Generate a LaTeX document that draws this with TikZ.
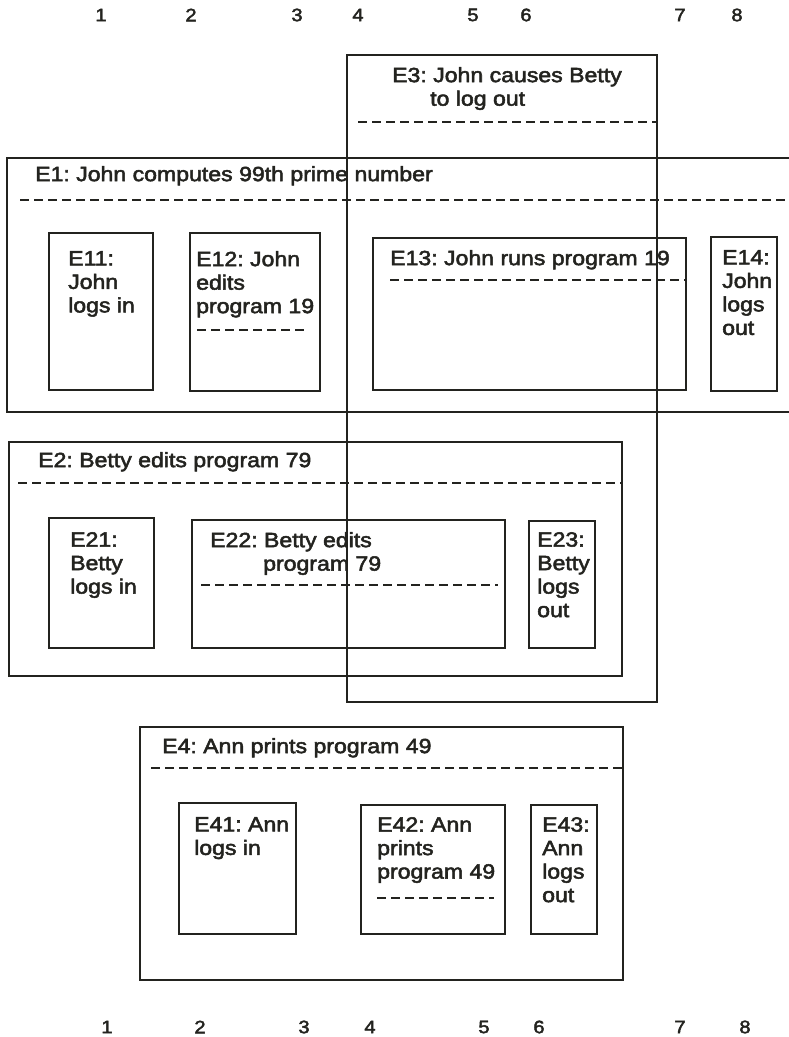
\documentclass[tikz,border=0pt]{standalone}
\usepackage{fontspec}
\setmainfont{Liberation Sans}[FakeStretch=1.12,FakeBold=2.5]
\usetikzlibrary{fit}
\definecolor{ink}{HTML}{23231F}
\tikzset{
  evbox/.style={draw=ink, line width=1.8pt, inner sep=0pt, outer sep=0pt, rectangle},
  lbl/.style={text=ink, inner sep=0pt, align=left, anchor=north west, font=\frenchspacing\fontsize{20.6}{23.5}\selectfont},
  num/.style={text=ink, inner sep=0pt, font=\fontsize{18}{20}\selectfont},
  dsh/.style={draw=ink, line width=1.8pt, dash pattern=on 9pt off 5pt}
}
\begin{document}
\begin{tikzpicture}[x=1pt,y=-1pt]
\useasboundingbox (0,0) rectangle (789,1037);
% column numbers
\foreach \n/\x in {1/101,2/191,3/297,4/358,5/473,6/526,7/680,8/737}
  \node[num] (t\n) at (\x,15) {\n};
\foreach \n/\x in {1/107,2/200,3/304,4/370,5/484,6/539,7/680,8/745}
  \node[num] (b\n) at (\x,1027) {\n};
% boxes
\node[evbox, fit={(347,55) (657,702)}] (E3) {};
\node[evbox, fit={(7,158) (795,412)}] (E1) {};
\node[evbox, fit={(49,233) (153,390)}] (E11) {};
\node[evbox, fit={(190,233) (320,391)}] (E12) {};
\node[evbox, fit={(373,238) (686,390)}] (E13) {};
\node[evbox, fit={(711,237) (777,391)}] (E14) {};
\node[evbox, fit={(9,442) (622,676)}] (E2) {};
\node[evbox, fit={(49,518) (154,648)}] (E21) {};
\node[evbox, fit={(192,520) (505,648)}] (E22) {};
\node[evbox, fit={(529,521) (595,648)}] (E23) {};
\node[evbox, fit={(140,727) (623,980)}] (E4) {};
\node[evbox, fit={(179,803) (296,934)}] (E41) {};
\node[evbox, fit={(361,805) (505,934)}] (E42) {};
\node[evbox, fit={(531,805) (597,934)}] (E43) {};
% labels
\node[lbl] (E3t) at (392,67) {E3: John causes Betty\\\hspace*{38pt}to log out};
\node[lbl] (E1t) at (35,166) {E1: John computes 99th prime number};
\node[lbl] (E11t) at (68,251) {E11:\\John\\logs in};
\node[lbl] (E12t) at (196,251) {E12: John\\edits\\program 19};
\node[lbl] (E13t) at (390,250) {E13: John runs program 19};
\node[lbl] (E14t) at (722,250) {E14:\\John\\logs\\out};
\node[lbl] (E2t) at (38,452) {E2: Betty edits program 79};
\node[lbl] (E21t) at (70,532) {E21:\\Betty\\logs in};
\node[lbl] (E22t) at (210,532) {E22: Betty edits\\\hspace*{53pt}program 79};
\node[lbl] (E23t) at (537,532) {E23:\\Betty\\logs\\out};
\node[lbl] (E4t) at (162,738) {E4: Ann prints program 49};
\node[lbl] (E41t) at (194,817) {E41: Ann\\logs in};
\node[lbl] (E42t) at (377,817) {E42: Ann\\prints\\program 49};
\node[lbl] (E43t) at (542,817) {E43:\\Ann\\logs\\out};
% dashed separators
\draw[dsh] (358,122) -- (E3.east |- 0,122);
\draw[dsh] (20,200) -- (789,200);
\draw[dsh] (197,330) -- (308,330);
\draw[dsh] (390,280) -- (E13.east |- 0,280);
\draw[dsh] (18,483) -- (E2.east |- 0,483);
\draw[dsh] (201,585) -- (498,585);
\draw[dsh] (151,768) -- (E4.east |- 0,768);
\draw[dsh] (377,898) -- (494,898);
\end{tikzpicture}
\end{document}
